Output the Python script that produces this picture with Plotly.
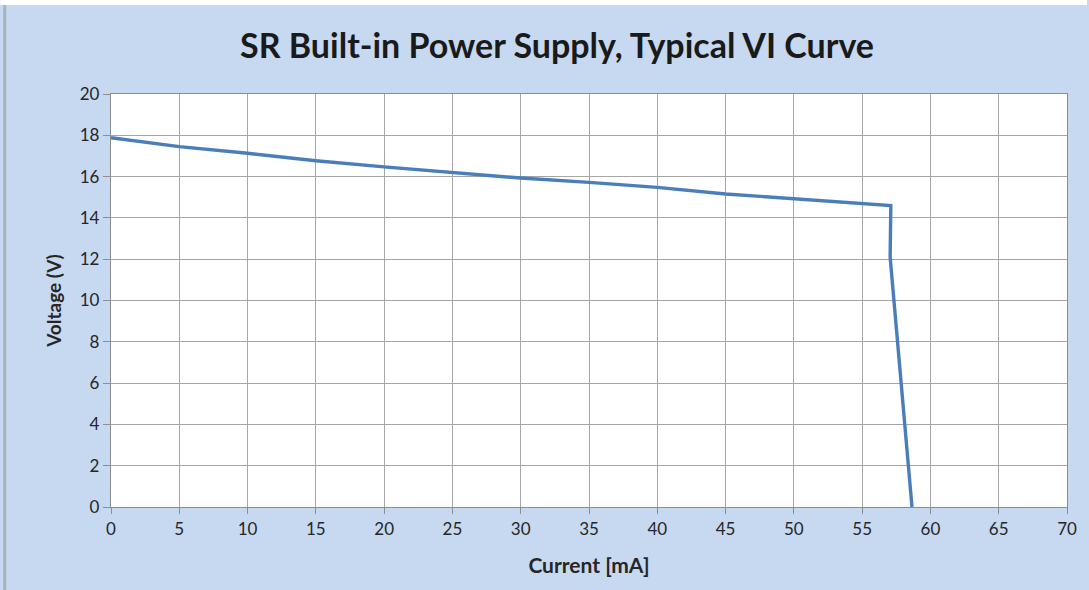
import plotly.graph_objects as go

current_ma = [0, 5, 10, 15, 20, 25, 30, 35, 40, 45, 50, 57.1, 57.05, 58.65]
voltage_v = [17.88, 17.45, 17.13, 16.77, 16.47, 16.19, 15.93, 15.72, 15.48, 15.16, 14.92, 14.6, 12.1, 0.0]

x_ticks = list(range(0, 71, 5))
y_ticks = list(range(0, 21, 2))

W, H = 1089, 590
L, R, T, B = 111, 20, 94, 83
pw, ph = W - L - R, H - T - B

def px(xp):
    return (xp - L) / pw

def py(yp):
    return (H - B - yp) / ph

fig = go.Figure()
fig.add_trace(go.Scatter(
    x=current_ma, y=voltage_v, mode="lines",
    line=dict(color="#4a7ebb", width=3.4),
    hoverinfo="x+y", showlegend=False,
))

font_family = "Lato, 'Open Sans', sans-serif"

fig.update_layout(
    width=W, height=H,
    margin=dict(l=L, r=R, t=T, b=B),
    paper_bgcolor="#c6d9f0",
    plot_bgcolor="#ffffff",
    title=dict(
        text="<b>SR Built-in Power Supply, Typical VI Curve</b>",
        x=557 / W, xanchor="center", y=1 - 46 / H, yanchor="middle",
        font=dict(family=font_family, size=34, color="#1a1a1a"),
    ),
    xaxis=dict(
        range=[0, 70], tickvals=x_ticks, ticktext=[str(v) for v in x_ticks],
        showgrid=True, gridcolor="#a6a6a6", gridwidth=1.3,
        showline=True, linecolor="#8c8c8c", linewidth=1.3, mirror=True,
        ticks="outside", ticklen=6, tickcolor="#8c8c8c",
        tickfont=dict(family=font_family, size=17, color="#262626"),
        title=dict(text="<b>Current [mA]</b>", standoff=20,
                   font=dict(family=font_family, size=21, color="#262626")),
        zeroline=False,
    ),
    yaxis=dict(
        range=[0, 20], tickvals=y_ticks, ticktext=[str(v) for v in y_ticks],
        showgrid=True, gridcolor="#a6a6a6", gridwidth=1.3,
        showline=True, linecolor="#8c8c8c", linewidth=1.3, mirror=True,
        ticks="outside", ticklen=7, tickcolor="#8c8c8c",
        tickfont=dict(family=font_family, size=17, color="#262626"),
        title=dict(text="<b>Voltage (V)</b>", standoff=13,
                   font=dict(family=font_family, size=19, color="#262626")),
        zeroline=False,
    ),
    shapes=[
        dict(type="rect", xref="paper", yref="paper",
             x0=px(0), x1=px(W), y0=py(5), y1=py(0),
             fillcolor="#ffffff", line=dict(width=0), layer="above"),
        dict(type="rect", xref="paper", yref="paper",
             x0=px(3), x1=px(6), y0=py(H), y1=py(5),
             fillcolor="#a9b3bd", line=dict(width=0), layer="above"),
    ],
)

fig.write_html(
    "out.html",
    config={"displayModeBar": False},
    post_script="document.body.style.margin='0';document.body.style.overflow='hidden';",
)
